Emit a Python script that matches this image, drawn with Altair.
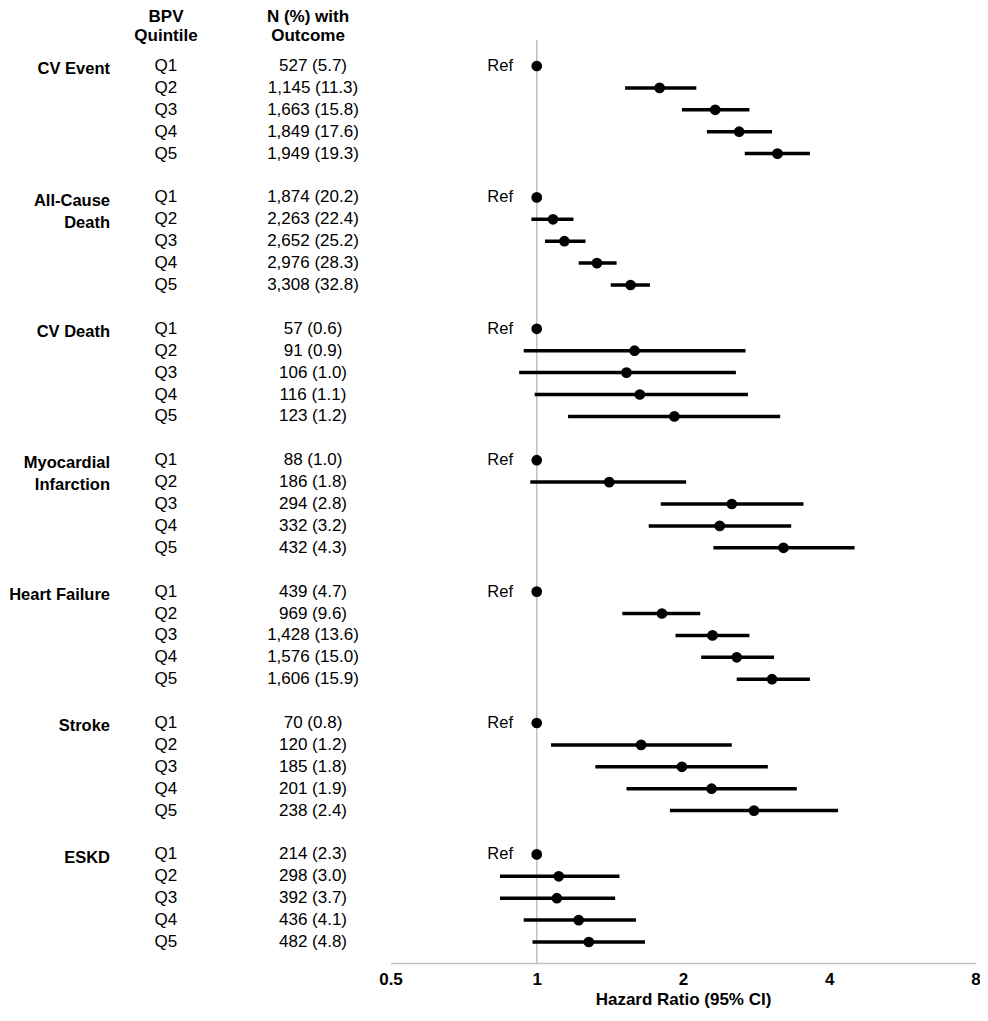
import altair as alt
import pandas as pd

FONT = "Liberation Sans, Arial, Helvetica, sans-serif"

outcome_lines = [
    ["CV Event"],
    ["All-Cause", "Death"],
    ["CV Death"],
    ["Myocardial", "Infarction"],
    ["Heart Failure"],
    ["Stroke"],
    ["ESKD"],
]
quintiles = ["Q1", "Q2", "Q3", "Q4", "Q5"]

n_text = [
    ["527 (5.7)", "1,145 (11.3)", "1,663 (15.8)", "1,849 (17.6)", "1,949 (19.3)"],
    ["1,874 (20.2)", "2,263 (22.4)", "2,652 (25.2)", "2,976 (28.3)", "3,308 (32.8)"],
    ["57 (0.6)", "91 (0.9)", "106 (1.0)", "116 (1.1)", "123 (1.2)"],
    ["88 (1.0)", "186 (1.8)", "294 (2.8)", "332 (3.2)", "432 (4.3)"],
    ["439 (4.7)", "969 (9.6)", "1,428 (13.6)", "1,576 (15.0)", "1,606 (15.9)"],
    ["70 (0.8)", "120 (1.2)", "185 (1.8)", "201 (1.9)", "238 (2.4)"],
    ["214 (2.3)", "298 (3.0)", "392 (3.7)", "436 (4.1)", "482 (4.8)"],
]

hr = [
    [1, 1.79, 2.33, 2.61, 3.13],
    [1, 1.08, 1.14, 1.33, 1.56],
    [1, 1.59, 1.53, 1.63, 1.92],
    [1, 1.41, 2.52, 2.38, 3.22],
    [1, 1.81, 2.30, 2.58, 3.05],
    [1, 1.64, 1.99, 2.29, 2.80],
    [1, 1.11, 1.10, 1.22, 1.28],
]
ci_lo = [
    [None, 1.52, 1.99, 2.24, 2.68],
    [None, 0.975, 1.04, 1.22, 1.42],
    [None, 0.94, 0.92, 0.99, 1.16],
    [None, 0.97, 1.80, 1.70, 2.31],
    [None, 1.50, 1.93, 2.18, 2.58],
    [None, 1.07, 1.32, 1.53, 1.88],
    [None, 0.84, 0.84, 0.94, 0.98],
]
ci_hi = [
    [None, 2.13, 2.74, 3.05, 3.65],
    [None, 1.19, 1.26, 1.46, 1.71],
    [None, 2.69, 2.57, 2.72, 3.17],
    [None, 2.03, 3.54, 3.34, 4.51],
    [None, 2.17, 2.74, 3.08, 3.65],
    [None, 2.52, 2.99, 3.43, 4.17],
    [None, 1.48, 1.45, 1.60, 1.67],
]

x_ticks = [0.5, 1, 2, 4, 8]

rows = []
for g in range(len(outcome_lines)):
    for q in range(5):
        rows.append({
            "row": g * 6 + q,
            "quintile": quintiles[q],
            "n": n_text[g][q],
            "hr": hr[g][q],
            "lo": ci_lo[g][q],
            "hi": ci_hi[g][q],
            "ref": "Ref" if q == 0 else "",
        })
df = pd.DataFrame(rows)
ci_df = df[df["lo"].notna()]

lab_rows = []
for g, lines in enumerate(outcome_lines):
    for i, line in enumerate(lines):
        lab_rows.append({"row": g * 6 + i + 0.15, "label": line})
lab_df = pd.DataFrame(lab_rows)

head_df = pd.DataFrame({
    "row": [-2.24, -1.37, -2.24, -1.37],
    "text": ["BPV", "Quintile", "N (%) with", "Outcome"],
    "col": ["q", "q", "n", "n"],
})

XS = alt.Scale(type="log", base=2, domain=[0.5, 8], range=[382.5, 967.5], nice=False)
AX = alt.Axis(values=x_ticks, format="~g", title="Hazard Ratio (95% CI)",
              grid=False, ticks=False, tickSize=0, domainColor="#bfbfbf",
              domainWidth=1.5, labelFont=FONT, labelFontSize=17,
              labelFontWeight="bold", labelColor="black", labelPadding=8,
              titleFont=FONT, titleFontSize=17, titleFontWeight="bold",
              titleColor="black", titleX=675, titleY=41,
              titleBaseline="alphabetic", labelFlush=False)
Y = alt.Y("row:Q", scale=alt.Scale(domain=[0, 40], range=[58, 934], zero=False, nice=False),
          axis=None)

refline = alt.Chart(pd.DataFrame({"hr": [1]})).mark_rule(color="#bfbfbf", strokeWidth=1.5).encode(
    x=alt.X("hr:Q", scale=XS, axis=AX), y=alt.value(32), y2=alt.value(955))

ci = alt.Chart(ci_df).mark_rule(color="black", strokeWidth=3.5).encode(
    x=alt.X("lo:Q", scale=XS, axis=AX), x2="hi:Q", y=Y)

pts = alt.Chart(df).mark_circle(color="black", opacity=1, size=115).encode(
    x=alt.X("hr:Q", scale=XS, axis=AX), y=Y)

ref_txt = alt.Chart(df[df["ref"] != ""]).mark_text(
    align="right", baseline="middle", font=FONT, fontSize=16.5, color="black"
).encode(x=alt.value(505), y=Y, text="ref:N")

q_txt = alt.Chart(df).mark_text(
    align="left", baseline="middle", font=FONT, fontSize=17, color="black"
).encode(x=alt.value(146.5), y=Y, text="quintile:N")

n_txt = alt.Chart(df).mark_text(
    align="center", baseline="middle", font=FONT, fontSize=17, color="black"
).encode(x=alt.value(305), y=Y, text="n:N")

g_txt = alt.Chart(lab_df).mark_text(
    align="right", baseline="middle", font=FONT, fontSize=16.5, fontWeight="bold", color="black"
).encode(x=alt.value(102), y=Y, text="label:N")

h_q = alt.Chart(head_df[head_df["col"] == "q"]).mark_text(
    align="center", baseline="middle", font=FONT, fontSize=17, fontWeight="bold", color="black"
).encode(x=alt.value(158), y=Y, text="text:N")

h_n = alt.Chart(head_df[head_df["col"] == "n"]).mark_text(
    align="center", baseline="middle", font=FONT, fontSize=17, fontWeight="bold", color="black"
).encode(x=alt.value(300), y=Y, text="text:N")

chart = alt.layer(refline, ci, pts, ref_txt, q_txt, n_txt, g_txt, h_q, h_n).properties(
    width=972, height=955,
    autosize=alt.AutoSizeParams(type="none"),
    padding={"left": 0, "top": 0, "right": 0, "bottom": 45},
).configure_view(stroke=None)

chart.save("out.html", embed_options={"renderer": "svg", "actions": False})
